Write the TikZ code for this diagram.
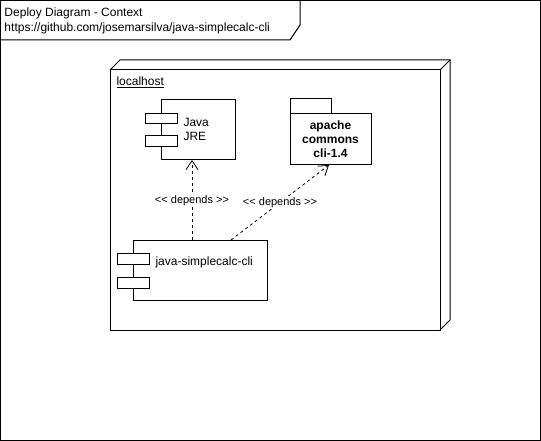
\documentclass[tikz,border=0pt]{standalone}
\usepackage{fontspec}
\setmainfont{Liberation Sans}
\usetikzlibrary{arrows.meta}
\begin{document}
\begin{tikzpicture}[x=1pt,y=-1pt,line width=1pt,
  lbl/.style={font=\fontsize{12}{14}\selectfont,inner sep=0pt},
  edgelbl/.style={font=\fontsize{11}{13}\selectfont,fill=white,inner sep=1pt},
  dep/.style={draw,dash pattern=on 3pt off 3pt,line width=0.8pt,-{Straight Barb[length=9pt,width=12pt,line width=0.8pt]}},
  boxst/.style={draw,fill=white}]
\useasboundingbox (0,0) rectangle (541,441);
\fill[white] (0,0) rectangle (541,441);
% outer frame
\draw (0.5,0.5) rectangle (540.5,440.5);
\draw (0.5,40) -- (290,40) -- (300,25) -- (300,0.5);
\node[lbl,anchor=west] (t1) at (4,13) {Deploy Diagram - Context};
\node[lbl,anchor=west] (t2) at (4,28) {https://github.com/josemarsilva/java-simplecalc-cli};
% 3D node
\draw (110,70) -- (120,60) -- (450,60) -- (450,320) -- (440,330);
\draw (440,70) -- (450,60);
\draw (110,70) rectangle (440,330);
\node[lbl,anchor=west] (lh) at (116,82) {\underline{localhost}};
% Java JRE component
\draw[boxst] (161,100) rectangle (235,160);
\draw[boxst] (145,114) rectangle (177,124);
\draw[boxst] (145,136) rectangle (177,147);
\node[lbl,anchor=north west,align=left] (jre) at (183,118) {Java\\JRE};
\coordinate (jrebot) at (192,160);
% apache package
\draw[boxst] (290,99) rectangle (331,114);
\draw[boxst] (290,114) rectangle (371,165);
\node[lbl,align=center,font=\fontsize{12}{14}\selectfont\bfseries] (ap) at (330.5,139.5) {apache\\commons\\cli-1.4};
\coordinate (apbot) at (329,165);
% java-simplecalc-cli component
\draw[boxst] (133,240) rectangle (267,300);
\draw[boxst] (117,253) rectangle (149,264);
\draw[boxst] (117,277) rectangle (149,288);
\node[lbl,anchor=west] (cli) at (155,262) {java-simplecalc-cli};
\coordinate (clitop1) at (192,240);
\coordinate (clitop2) at (231,240);
% dependencies
\draw[dep] (clitop1) -- node[edgelbl,pos=0.49] (l1) {<{}< depends >{}>} (jrebot);
\draw[dep] (clitop2) -- node[edgelbl,pos=0.5] (l2) {<{}< depends >{}>} (apbot);
\end{tikzpicture}
\end{document}
